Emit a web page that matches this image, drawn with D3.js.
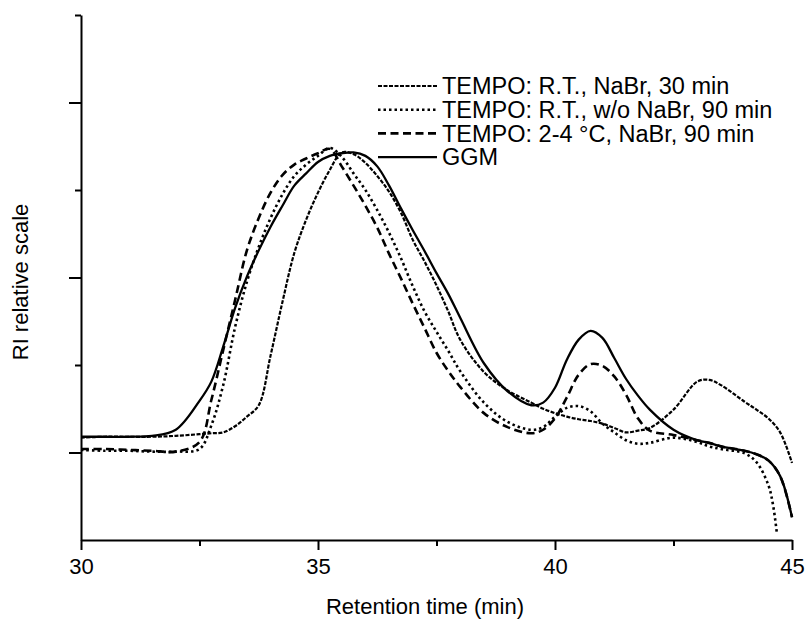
<!DOCTYPE html>
<html>
<head>
<meta charset="utf-8">
<script src="https://cdn.jsdelivr.net/npm/d3@7"></script>
<style>
  body { margin: 0; background: #fff; }
  svg { display: block; font-family: "Liberation Sans", Arial, sans-serif; }
</style>
</head>
<body>
<svg id="chart"></svg>
<script>
// Retention time grid (min)
const times = [30, 30.5, 31, 31.5, 32, 32.5, 32.75, 33, 33.25, 33.5, 33.75,
  34, 34.25, 34.5, 34.75, 35, 35.25, 35.5, 35.75, 36, 36.25, 36.5, 36.75,
  37, 37.25, 37.5, 37.75, 38, 38.5, 39, 39.5, 39.75, 40, 40.25, 40.5, 40.75,
  41, 41.25, 41.5, 41.75, 42, 42.5, 43, 43.25, 43.5, 44, 44.25, 44.5, 44.75, 45];

// dotted trace stops a bit before 45
const timesNoNaBr = times.slice(0, 48).concat([44.6, 44.68]);

// RI signal, relative scale
const rtNaBr30 = [1.17, 1.18, 1.18, 1.18, 1.19, 1.21, 1.22, 1.23, 1.30, 1.41, 1.54,
  2.11, 2.72, 3.28, 3.66, 3.97, 4.23, 4.43, 4.41, 4.31, 4.16, 3.98, 3.74,
  3.43, 3.18, 2.91, 2.61, 2.29, 1.92, 1.71, 1.57, 1.50, 1.45, 1.41, 1.38, 1.36,
  1.33, 1.28, 1.23, 1.25, 1.28, 1.49, 1.81, 1.83, 1.77, 1.58, 1.49, 1.39, 1.23, 0.88];

const rtNoNaBr90 = [1.03, 1.02, 1.02, 1.01, 1.01, 1.04, 1.31, 1.77, 2.43, 2.95, 3.35,
  3.68, 3.95, 4.16, 4.29, 4.39, 4.48, 4.38, 4.19, 4.00, 3.77, 3.51, 3.22,
  2.90, 2.61, 2.38, 2.16, 1.93, 1.57, 1.35, 1.26, 1.29, 1.41, 1.51, 1.53, 1.47,
  1.33, 1.23, 1.14, 1.10, 1.11, 1.17, 1.12, 1.07, 1.04, 0.99, 0.89, 0.63, 0.40, 0.08];

const cold90 = [1.04, 1.04, 1.03, 1.02, 1.01, 1.12, 1.60, 2.17, 2.74, 3.31, 3.68,
  3.97, 4.17, 4.29, 4.36, 4.42, 4.47, 4.27, 4.05, 3.82, 3.57, 3.27, 2.99,
  2.70, 2.42, 2.14, 1.93, 1.75, 1.45, 1.29, 1.22, 1.26, 1.39, 1.63, 1.89, 2.01,
  1.99, 1.87, 1.66, 1.39, 1.25, 1.20, 1.14, 1.11, 1.07, 1.02, 0.98, 0.91, 0.73, 0.26];

const ggm = [1.18, 1.18, 1.18, 1.19, 1.26, 1.59, 1.81, 2.21, 2.65, 3.01, 3.31,
  3.58, 3.82, 4.05, 4.19, 4.32, 4.39, 4.42, 4.43, 4.39, 4.27, 4.05, 3.79,
  3.54, 3.30, 3.05, 2.81, 2.54, 2.02, 1.70, 1.54, 1.57, 1.74, 2.06, 2.29, 2.39,
  2.31, 2.08, 1.84, 1.65, 1.49, 1.26, 1.14, 1.11, 1.07, 1.02, 0.98, 0.91, 0.73, 0.26];

const seriesNames = ["TEMPO: R.T., NaBr, 30 min", "TEMPO: R.T., w/o NaBr, 90 min",
  "TEMPO: 2-4 \u00b0C, NaBr, 90 min", "GGM"];
const xMajorTicks = [30, 35, 40, 45];
const xMinorTicks = [32.5, 37.5, 42.5];
const yMajorTicks = [1, 3, 5];
const yMinorTicks = [2, 4, 6];

const series = [
  { name: seriesNames[0], t: times, v: rtNaBr30, dash: "4,1.5", w: 2.2 },
  { name: seriesNames[1], t: timesNoNaBr, v: rtNoNaBr90, dash: "2.5,3", w: 2.6 },
  { name: seriesNames[2], t: times, v: cold90, dash: "8,4.5", w: 2.6 },
  { name: seriesNames[3], t: times, v: ggm, dash: null, w: 2.3 }
];

const width = 807, height = 620;
const margin = { top: 15, right: 15, bottom: 80, left: 81 };

const svg = d3.select("#chart")
  .attr("width", width)
  .attr("height", height);

const x = d3.scaleLinear().domain([30, 45]).range([margin.left, width - margin.right]);
const y = d3.scaleLinear().domain([0, 6]).range([height - margin.bottom, margin.top]);

// curves
const line = d3.line()
  .x(d => x(d[0]))
  .y(d => y(d[1]))
  .curve(d3.curveCatmullRom.alpha(0.5));

svg.append("g")
  .selectAll("path")
  .data(series)
  .join("path")
  .attr("d", s => line(s.t.map((t, i) => [t, s.v[i]])))
  .attr("fill", "none")
  .attr("stroke", "#000")
  .attr("stroke-width", s => s.w)
  .attr("stroke-dasharray", s => s.dash);

// axes
const xAxis = svg.append("g")
  .attr("transform", `translate(0,${y(0)})`)
  .call(d3.axisBottom(x).tickValues(xMajorTicks).tickSize(10).tickPadding(8)
    .tickSizeOuter(0).tickFormat(d3.format("d")));
svg.append("g")
  .attr("transform", `translate(0,${y(0)})`)
  .call(d3.axisBottom(x).tickValues(xMinorTicks).tickSize(6).tickFormat(""))
  .call(g => g.select(".domain").remove());

svg.append("g")
  .attr("transform", `translate(${margin.left},0)`)
  .call(d3.axisLeft(y).tickValues(yMajorTicks).tickSize(12).tickSizeOuter(0).tickFormat(""));
svg.append("g")
  .attr("transform", `translate(${margin.left},0)`)
  .call(d3.axisLeft(y).tickValues(yMinorTicks).tickSize(6).tickFormat(""))
  .call(g => g.select(".domain").remove());

svg.selectAll(".domain, .tick line")
  .attr("stroke", "#000")
  .attr("stroke-width", 2);

xAxis.selectAll(".tick text")
  .attr("font-size", 22)
  .attr("font-family", "Liberation Sans, Arial, sans-serif")
  .attr("fill", "#000");

// axis titles
svg.append("text")
  .attr("x", 425)
  .attr("y", 614)
  .attr("text-anchor", "middle")
  .attr("font-size", 22)
  .text("Retention time (min)");

svg.append("text")
  .attr("transform", "translate(28,282) rotate(-90)")
  .attr("text-anchor", "middle")
  .attr("font-size", 22)
  .text("RI relative scale");

// legend
const legend = svg.append("g")
  .selectAll("g")
  .data(series)
  .join("g")
  .attr("transform", (d, i) => `translate(378,${86 + i * 23.7})`);

legend.append("line")
  .attr("x1", 0).attr("x2", 59)
  .attr("stroke", "#000")
  .attr("stroke-width", d => d.w)
  .attr("stroke-dasharray", d => d.dash);

legend.append("text")
  .attr("x", 64)
  .attr("dy", "0.35em")
  .attr("font-size", 23.5)
  .text(d => d.name);
</script>
</body>
</html>
